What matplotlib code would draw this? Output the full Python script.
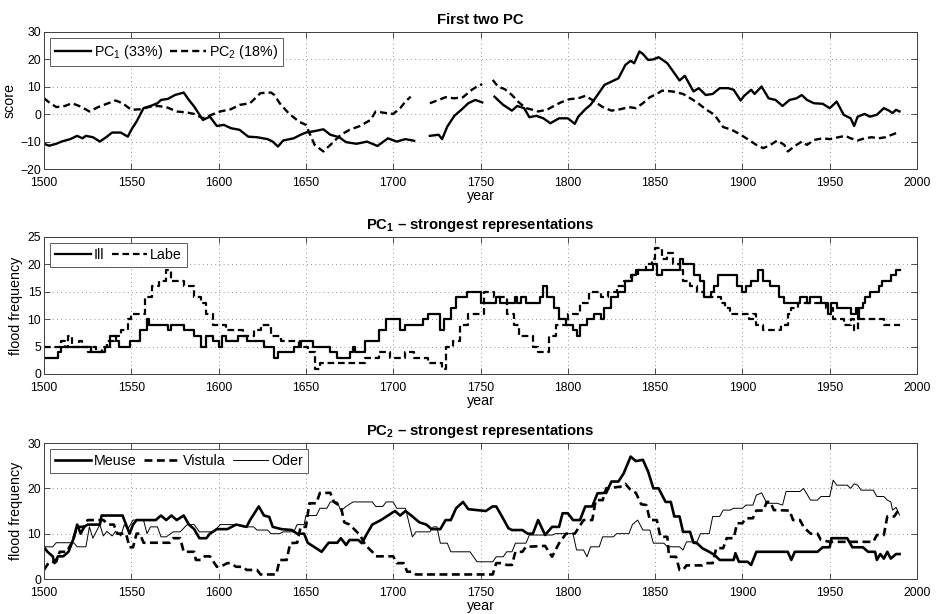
import numpy as np
import matplotlib
matplotlib.use('Agg')
import matplotlib.pyplot as plt

plt.rcParams['font.family'] = ['Liberation Sans', 'DejaVu Sans']
plt.rcParams['mathtext.fontset'] = 'custom'
plt.rcParams['mathtext.rm'] = 'Liberation Sans'
plt.rcParams['mathtext.bf'] = 'Liberation Sans:bold'
plt.rcParams['mathtext.it'] = 'Liberation Sans:italic'
plt.rcParams['mathtext.default'] = 'regular'

nan = np.nan

# ---------------- Panel 1: PC scores ----------------
pc1_year = [1500,1503,1507,1510,1515,1519,1522,1524,1528,1532,1536,1539,1544,1548,1550,1553,1557,1561,
            1565,1567,1571,1575,1579,1580,1583,1586,1591,1595,1599,1603,1607,1612,1617,1622,1628,1631,
            1634,1637,1643,1647,1650,1654,1660,1664,1669,1673,1679,1685,1691,1697,1702,1707,1712,1716,
            1721,1726,1728,1731,1735,1739,1743,1747,1751,1754,1758,1763,1768,1771,1775,1778,1782,1786,
            1790,1795,1800,1804,1806,1810,1813,1817,1821,1825,1829,1833,1836,1838,1841,1843,1846,1849,
            1852,1857,1861,1864,1867,1872,1875,1879,1883,1887,1892,1895,1899,1901,1905,1907,1911,1915,
            1919,1923,1927,1931,1934,1937,1941,1946,1950,1954,1958,1962,1964,1966,1970,1973,1977,1981,
            1984,1986,1988,1990]
pc1_score = [-10.8,-11.5,-10.8,-10,-9.1,-7.9,-8.8,-7.9,-8.4,-10,-8.2,-6.7,-6.7,-8.2,-5.7,-2.7,2.2,3,
             4,5.2,5.6,7,7.7,7.9,5.2,2.8,-2.1,-0.9,-4.3,-3.9,-5.1,-5.7,-8.2,-8.4,-9.1,-10,
             -11.8,-9.6,-8.8,-7.5,-6.7,-6.3,-5.5,-7.5,-8.4,-10.2,-10.8,-10,-11.6,-8.8,-10,-9.1,-9.7,nan,
             -7.9,-7.5,-9.1,-4.5,-0.6,1.6,4,5.2,4.3,nan,6.4,3.4,1.3,3,2.2,-1.1,-0.6,-1.5,
             -3.3,-1.5,-1.5,-3.5,-0.9,1.8,3.4,7,10.7,11.9,13.1,18,19.5,18.6,22.9,22,19.8,20,
             20.8,18.6,15,12.3,14,8.3,9.5,7,7.4,9.5,9.5,8.9,5,6.7,8.9,7.4,10.1,5.8,
             5.2,3,5.2,5.8,7,5.2,4,3.8,2.2,4.6,-0.2,-1.5,-4.3,-0.9,0.1,-0.9,-0.2,2.2,
             1.3,0.4,1.6,1]

pc2_year = [1500,1503,1507,1512,1516,1521,1526,1531,1536,1541,1545,1550,1555,1560,1565,1570,1576,1582,
            1586,1591,1596,1601,1607,1612,1618,1624,1630,1632,1635,1640,1646,1650,1655,1660,1665,1670,
            1675,1681,1687,1690,1696,1700,1704,1707,1710,1715,1721,1726,1730,1735,1740,1745,1748,1751,
            1754,1757,1760,1764,1768,1772,1776,1780,1783,1788,1792,1796,1801,1806,1810,1814,1820,1825,
            1830,1835,1839,1843,1847,1851,1854,1860,1866,1871,1874,1879,1884,1889,1894,1899,1903,1908,
            1912,1916,1920,1924,1926,1930,1934,1937,1941,1946,1950,1955,1959,1962,1966,1970,1974,1978,
            1982,1984,1988]
pc2_score = [5.8,4.3,2.6,3,4,2.8,1,2.6,3.8,5,4,1.6,1.8,2.6,3,2.6,1,0.6,
             0.1,-1.5,-0.2,1,1.8,3.4,4,7.7,7.9,7,4,0.4,-2.7,-3.9,-11.2,-13.6,-10.6,-7.5,
             -5.7,-4.3,-2.1,1,0.4,0.1,2.2,4.6,6.4,nan,4,5.2,6.2,5.8,6.2,8.9,10.1,11,
             nan,12.5,10.1,9.1,7,4.3,2.2,1.6,1,1.6,3,4.3,5.5,5.8,6.7,5.2,2.6,1.3,
             1.8,2.6,2.2,4,6.2,7.4,8.6,8.3,7.4,5.5,4.3,1.8,-0.2,-4.7,-5.7,-7.5,-9.1,-11.2,
             -12.4,-11.2,-9.6,-11.2,-13.6,-11.6,-10,-11.2,-9.4,-8.8,-9.1,-8.4,-7.9,-8.8,-9.6,-8.8,-8.4,-8.8,
             -8.4,-7.9,-6.9]

# ---------------- Panel 2: Ill and Labe (step changes) ----------------
ill_year = [1500,1508,1510,1527,1535,1538,1541,1543,1549,1555,1559,1560,1571,1573,1580,1586,1590,1593,
            1597,1600,1602,1604,1611,1616,1626,1632,1634,1643,1647,1654,1664,1668,1675,1677,1678,1684,
            1692,1696,1704,1707,1717,1720,1727,1729,1733,1736,1742,1750,1759,1761,1770,1771,1773,1776,
            1784,1786,1788,1792,1795,1799,1803,1805,1807,1811,1815,1819,1821,1825,1829,1833,1837,1839,
            1849,1851,1854,1864,1866,1872,1876,1878,1882,1884,1886,1897,1900,1902,1905,1909,1912,1916,
            1921,1924,1933,1937,1939,1945,1949,1951,1954,1962,1965,1966,1967,1969,1970,1973,1978,1980,
            1985,1988,1990]
ill_freq = [3,4,5,4,5,7,6,5,6,8,10,9,8,9,8,7,5,7,
            6,5,7,6,7,6,5,3,4,5,6,5,4,3,4,5,4,6,
            8,10,8,9,10,11,8,10,12,14,15,13,14,13,14,13,14,13,
            14,16,14,12,10,9,8,7,9,10,11,10,12,14,15,17,18,19,
            20,18,19,21,20,18,17,14,15,16,18,16,15,16,17,19,17,16,
            14,13,14,13,14,13,11,13,12,11,12,10,12,13,14,15,16,17,
            18,19,19]

labe_year = [1500,1510,1512,1514,1516,1520,1522,1525,1527,1530,1533,1536,1540,1544,1548,1550,1558,1562,
             1566,1570,1573,1580,1586,1590,1593,1597,1604,1614,1620,1624,1630,1636,1646,1651,1655,1658,
             1684,1692,1698,1707,1712,1720,1728,1730,1734,1738,1743,1752,1758,1765,1769,1772,1780,1783,
             1789,1793,1800,1807,1812,1819,1823,1828,1832,1836,1840,1845,1848,1850,1854,1857,1860,1864,
             1866,1870,1874,1878,1888,1890,1893,1904,1906,1908,1912,1922,1926,1928,1932,1948,1952,1958,
             1962,1964,1966,1975,1981,1990]
labe_freq = [5,6,5,7,5,6,5,4,5,4,5,6,7,8,10,11,14,16,
             17,19,17,16,14,13,11,9,8,7,8,9,7,6,5,4,1,2,
             3,4,3,4,3,2,1,5,6,9,11,15,14,11,9,7,5,4,
             7,9,11,13,15,14,15,16,17,18,19,20,21,23,21,22,20,19,
             17,16,15,14,13,12,11,10,11,9,8,9,11,12,13,12,10,9,
             10,8,10,10,9,9]

# ---------------- Panel 3: Meuse, Vistula, Oder ----------------
meuse_year = [1500,1502,1505,1506,1508,1511,1514,1517,1519,1521,1523,1525,1532,1533,1545,1547,1549,1551,
              1553,1564,1567,1570,1573,1576,1580,1583,1586,1589,1593,1595,1599,1605,1610,1616,1618,1623,
              1626,1629,1631,1636,1642,1645,1649,1651,1655,1659,1661,1663,1668,1670,1673,1675,1680,1682,
              1685,1688,1693,1697,1701,1704,1707,1711,1715,1719,1722,1727,1730,1733,1736,1740,1743,1748,
              1753,1757,1759,1762,1766,1768,1774,1777,1780,1783,1787,1791,1795,1797,1800,1803,1807,1810,
              1814,1817,1822,1825,1829,1832,1836,1839,1843,1846,1849,1852,1856,1859,1861,1864,1866,1870,
              1872,1874,1877,1881,1884,1887,1895,1896,1898,1903,1905,1908,1926,1928,1930,1943,1946,1950,
              1951,1960,1963,1969,1972,1976,1977,1979,1981,1983,1985,1988,1990]
meuse_freq = [7,6,5,3.5,5,5,6,9,12,10,11.5,12,12,14,14,12,10,12,
              13,13,14,13,14,13,14,12,11,9,9,10,11,11,12,11.5,13,16,
              14,13.7,11.5,11,10.8,10,10,8,7,6,7,8,8,9,7.5,8.6,8.6,7.9,
              10,12,13,14,15,14,15,13.8,12.5,12,11,11,13,13,15.6,17,15.4,15.2,
              15,16,16,14,11.2,10.8,10.8,10,10,13,9.7,11.5,11.5,14.5,14.5,13,13,16,
              16,18.9,19,21.5,21.5,23.3,27,26,26.3,23.7,20,20,17,17,13.8,13.8,10.4,10.4,
              8,7.9,6.8,6,5.3,4.2,4.2,5.7,3.8,3.8,3.1,6,6,4.2,6,6,7,7,
              9,9,7,7,6,6,4.2,5.5,4.5,6,4.5,5.5,5.5]

vistula_year = [1500,1503,1507,1509,1513,1516,1519,1523,1525,1534,1537,1540,1542,1547,1549,1551,1553,1555,
                1557,1572,1574,1578,1580,1586,1587,1590,1592,1595,1599,1601,1605,1607,1610,1614,1616,1622,
                1624,1633,1635,1639,1641,1645,1647,1650,1652,1656,1658,1664,1666,1670,1672,1675,1681,1684,
                1688,1690,1700,1702,1706,1708,1711,1713,1757,1759,1763,1765,1768,1770,1774,1776,1787,1791,
                1795,1799,1804,1809,1814,1816,1820,1822,1831,1833,1836,1839,1842,1845,1847,1851,1853,1857,
                1858,1862,1864,1866,1868,1877,1879,1883,1885,1889,1891,1895,1897,1900,1902,1906,1908,1912,
                1914,1916,1918,1927,1929,1933,1935,1939,1943,1945,1950,1975,1977,1981,1983,1987,1989,1990]
vistula_freq = [2,3.8,3.8,6,6,8,11.5,11.5,13,13,12,12,10,10,7,7,10,10,
                8,8,9,9,6,6,4.2,4.2,5,5,2.7,2.7,3.5,3.5,2.7,2.7,2,2,
                1,1,4.2,4.2,7.9,8,11.5,11.5,16.7,16.7,19,19,17,16,12.5,12,9.7,7.5,
                6,5,5,3.5,3.5,1.6,1.6,1,1,3.5,3.5,3.1,3.1,6,6,7.1,7.3,4.9,
                7.9,10,10,13,13,17.4,17.4,20,20.4,21,19.6,19,16.5,16.3,13,13,9.3,9.3,
                4.9,4.9,2,2,3,3,3.5,3.5,6.8,6.8,9,9,12.3,12.3,13.4,13.4,15.1,15.1,
                17,17,15.2,15.1,13,13,11.5,10,10,8.6,8.2,8.2,9.7,9.7,13.8,13.8,15,14.5]

oder_year = [1500,1505,1507,1517,1519,1524,1526,1528,1530,1532,1534,1536,1539,1541,1544,1546,1548,1551,
             1557,1559,1561,1565,1567,1570,1574,1578,1582,1586,1589,1597,1601,1612,1614,1620,1622,1628,
             1630,1635,1637,1643,1645,1649,1650,1656,1658,1662,1664,1668,1670,1673,1677,1688,1690,1694,
             1696,1700,1702,1707,1711,1713,1721,1723,1725,1727,1731,1733,1744,1748,1757,1759,1763,1765,
             1768,1770,1776,1778,1791,1793,1803,1805,1809,1811,1813,1818,1820,1826,1828,1835,1837,1840,
             1843,1847,1849,1855,1857,1864,1866,1868,1874,1876,1881,1883,1887,1889,1893,1895,1900,1902,
             1906,1908,1911,1914,1920,1923,1925,1933,1935,1939,1943,1945,1950,1952,1954,1960,1962,1964,
             1966,1968,1975,1977,1981,1983,1985,1986,1988,1990]
oder_freq = [7.1,7.1,8,8,7.1,7.1,11.5,9,10.5,12,9.5,10.5,9.5,10.5,9.5,12,11,13,
             13,10,11.5,11.5,9.3,9.3,10.4,10.4,12,12,10.4,10.4,12,12,11.5,11.5,10.8,10.8,
             10,10,10.4,10.4,12,12,14,14,15.6,15.6,17,17,15,16,17,17,16,16,
             17,17,15.6,15.6,9.3,10.4,10.4,11.5,11.5,7.9,7.9,6,6,3.8,3.8,4.9,4.9,6,
             6,7.9,7.9,9.7,9.7,10,10,6.4,6.4,4.9,7.1,7.1,9.3,9.3,10,10,12,13,
             10.8,10.8,7.9,7.9,7.1,7.1,6.4,8.2,8.2,10,10,13.8,13.8,15.2,15.2,15.6,15.6,16.3,
             16.3,18.5,19,16.7,16.7,16.3,19.3,19.3,20,17.4,17.4,18.2,18.2,21.8,20.7,20.7,20,21,
             20.7,19.6,19.6,18.2,18.2,17.4,17,15.2,15.8,14.1]

x_ticks = [1500, 1550, 1600, 1650, 1700, 1750, 1800, 1850, 1900, 1950, 2000]

# ---------------- Figure ----------------
fig = plt.figure(figsize=(9.38, 6.14), dpi=100)
left, width = 44/938, 873/938
ax1 = fig.add_axes([left, (614-169)/614, width, 137/614])
ax2 = fig.add_axes([left, (614-374)/614, width, 137/614])
ax3 = fig.add_axes([left, (614-579)/614, width, 136/614])

TICK_FS = 8.8
LBL_FS = 10.3
LEG_FS = 10.3
TTL_FS = 10.7
DASH = (3, 1.7)


def style(ax, yticks, ylabel, title):
    ax.set_xlim(1500, 2000)
    ax.set_ylim(yticks[0], yticks[-1])
    ax.set_xticks(x_ticks)
    ax.set_yticks(yticks)
    ax.grid(True, linestyle=(0, (1, 4)), linewidth=0.6, color='0.45')
    ax.set_axisbelow(True)
    ax.tick_params(direction='in', length=4, width=0.6, top=True, right=True,
                   labelsize=TICK_FS, color='0.2')
    ax.tick_params(axis='x', pad=5.5)
    ax.tick_params(axis='y', pad=2)
    for s in ax.spines.values():
        s.set_linewidth(0.7)
        s.set_color('0.25')
    ax.set_xlabel('year', fontsize=LBL_FS, labelpad=0.5)
    ax.set_ylabel(ylabel, fontsize=LBL_FS, labelpad=3)
    ax.set_title(title, fontsize=TTL_FS, fontweight='bold', pad=6)


def legend(ax, ncol):
    leg = ax.legend(loc='upper left', ncol=ncol, fontsize=LEG_FS, frameon=True, fancybox=False,
                    handlelength=2.5, handletextpad=0.2, columnspacing=0.5, borderpad=0.35,
                    borderaxespad=0.45)
    leg.get_frame().set_edgecolor('0.2')
    leg.get_frame().set_linewidth(0.7)


# Panel 1
ax1.plot(pc1_year, pc1_score, color='black', lw=1.7, label=r'PC$_1$ (33%)')
ax1.plot(pc2_year, pc2_score, color='black', lw=1.7, linestyle='--', dashes=DASH, label=r'PC$_2$ (18%)')
style(ax1, [-20, -10, 0, 10, 20, 30], 'score', 'First two PC')
legend(ax1, 2)

# Panel 2
ax2.plot(ill_year, ill_freq, color='black', lw=1.6, drawstyle='steps-post', label='Ill')
ax2.plot(labe_year, labe_freq, color='black', lw=1.6, drawstyle='steps-post', linestyle='--',
         dashes=DASH, label='Labe')
style(ax2, [0, 5, 10, 15, 20, 25], 'flood frequency', r'PC$_\mathbf{1}$ – strongest representations')
legend(ax2, 2)

# Panel 3
ax3.plot(meuse_year, meuse_freq, color='black', lw=1.9, label='Meuse')
ax3.plot(vistula_year, vistula_freq, color='black', lw=1.9, linestyle='--', dashes=DASH, label='Vistula')
ax3.plot(oder_year, oder_freq, color='black', lw=0.7, label='Oder')
style(ax3, [0, 10, 20, 30], 'flood frequency', r'PC$_\mathbf{2}$ – strongest representations')
legend(ax3, 3)

fig.savefig('out.png', dpi=100)
